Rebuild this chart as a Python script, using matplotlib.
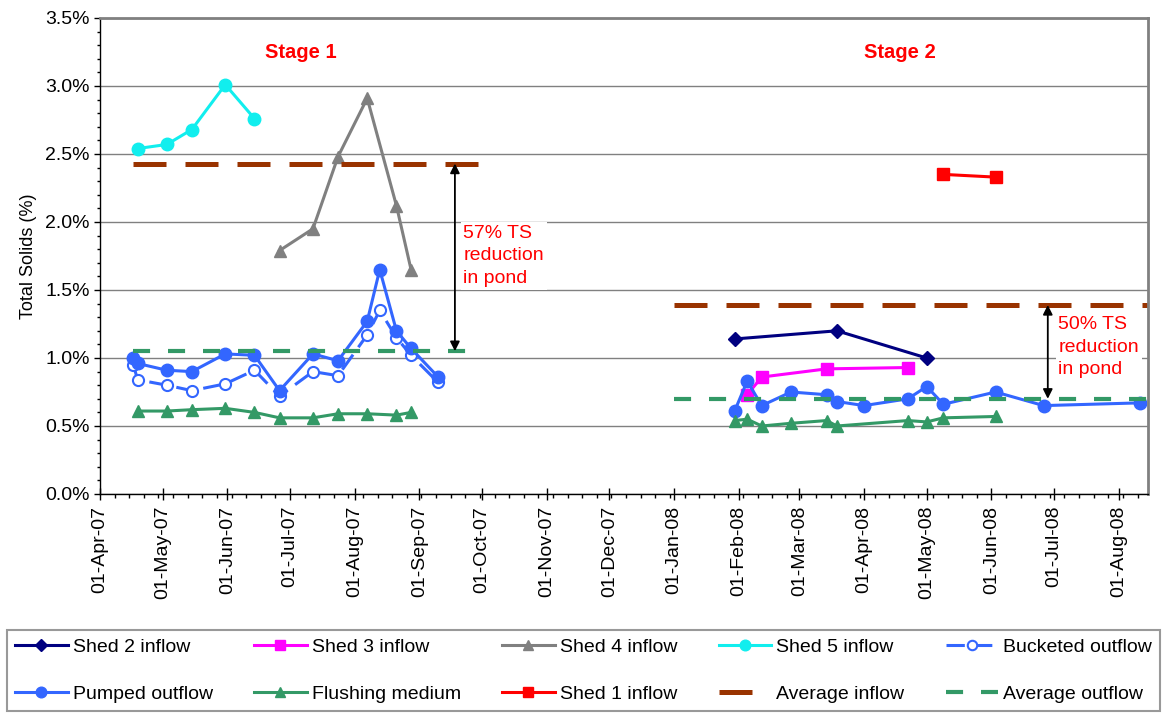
import numpy as np
import pandas as pd
import matplotlib
matplotlib.use('Agg')
import matplotlib.pyplot as plt
import matplotlib.dates as mdates
from matplotlib.ticker import MultipleLocator, FuncFormatter, FixedLocator

plt.rcParams['font.family'] = ['Liberation Sans', 'DejaVu Sans']

# %% data (Total Solids, %)
shed2_dates = ['2008-01-30', '2008-03-19', '2008-05-01']
shed2_ts = [1.14, 1.20, 1.00]

shed3_dates = ['2008-02-05', '2008-02-12', '2008-03-14', '2008-04-22']
shed3_ts = [0.73, 0.86, 0.92, 0.93]

shed4_dates = ['2007-06-26', '2007-07-12', '2007-07-24', '2007-08-07', '2007-08-21', '2007-08-28']
shed4_ts = [1.79, 1.95, 2.48, 2.91, 2.12, 1.65]

shed5_dates = ['2007-04-19', '2007-05-03', '2007-05-15', '2007-05-31', '2007-06-14']
shed5_ts = [2.54, 2.57, 2.68, 3.01, 2.76]

shed1_dates = ['2008-05-09', '2008-06-03']
shed1_ts = [2.35, 2.33]

bucket_dates = ['2007-04-17', '2007-04-19', '2007-05-03', '2007-05-15', '2007-05-31', '2007-06-14',
                '2007-06-26', '2007-07-12', '2007-07-24', '2007-08-07', '2007-08-13', '2007-08-21',
                '2007-08-28', '2007-09-10']
bucket_ts = [0.95, 0.84, 0.80, 0.76, 0.81, 0.91, 0.72, 0.90, 0.87, 1.17, 1.35, 1.15, 1.02, 0.82]

pumped_s1_dates = bucket_dates
pumped_s1_ts = [1.00, 0.96, 0.91, 0.90, 1.03, 1.02, 0.76, 1.03, 0.98, 1.27, 1.65, 1.20, 1.07, 0.86]
pumped_s2_dates = ['2008-01-30', '2008-02-05', '2008-02-12', '2008-02-26', '2008-03-14', '2008-03-19',
                   '2008-04-01', '2008-04-22', '2008-05-01', '2008-05-09', '2008-06-03', '2008-06-26',
                   '2008-08-11']
pumped_s2_ts = [0.61, 0.83, 0.65, 0.75, 0.73, 0.68, 0.65, 0.70, 0.79, 0.66, 0.75, 0.65, 0.67]

flush_s1_dates = ['2007-04-19', '2007-05-03', '2007-05-15', '2007-05-31', '2007-06-14', '2007-06-26',
                  '2007-07-12', '2007-07-24', '2007-08-07', '2007-08-21', '2007-08-28']
flush_s1_ts = [0.61, 0.61, 0.62, 0.63, 0.60, 0.56, 0.56, 0.59, 0.59, 0.58, 0.60]
flush_s2_dates = ['2008-01-30', '2008-02-05', '2008-02-12', '2008-02-26', '2008-03-14', '2008-03-19',
                  '2008-04-22', '2008-05-01', '2008-05-09', '2008-06-03']
flush_s2_ts = [0.54, 0.55, 0.50, 0.52, 0.54, 0.50, 0.54, 0.53, 0.56, 0.57]

# averages per stage
stage1_span = ['2007-04-17', '2007-09-30']
stage2_span = ['2008-01-01', '2008-08-15']
avg_in = [2.43, 1.39]
avg_out = [1.05, 0.70]

d = lambda lst: pd.to_datetime(lst)

# %%
fig = plt.figure(figsize=(11.62, 7.13), dpi=100)
ax = fig.add_axes([100/1162, 1-494/713, 1048/1162, 476/713])

h_shed2, = ax.plot(d(shed2_dates), shed2_ts, '-D', color='#000080', lw=2.2, ms=7, label='Shed 2 inflow')
h_shed3, = ax.plot(d(shed3_dates), shed3_ts, '-s', color='#FF00FF', lw=2.2, ms=8, label='Shed 3 inflow')
h_shed4, = ax.plot(d(shed4_dates), shed4_ts, '-^', color='#808080', lw=2.2, ms=9, label='Shed 4 inflow')
h_shed5, = ax.plot(d(shed5_dates), shed5_ts, '-o', color='#11EEEE', lw=2.2, ms=9, label='Shed 5 inflow')
h_buck, = ax.plot(d(bucket_dates), bucket_ts, '-o', color='#3366FF', mfc='white', mew=1.5,
                  lw=2.2, ms=8, dashes=(6, 3), label='Bucketed outflow')
h_pump, = ax.plot(d(pumped_s1_dates), pumped_s1_ts, '-o', color='#3366FF', lw=2.2, ms=9,
                  label='Pumped outflow')
ax.plot(d(pumped_s2_dates), pumped_s2_ts, '-o', color='#3366FF', lw=2.2, ms=9)
h_flush, = ax.plot(d(flush_s1_dates), flush_s1_ts, '-^', color='#339966', lw=2.2, ms=9,
                   label='Flushing medium')
ax.plot(d(flush_s2_dates), flush_s2_ts, '-^', color='#339966', lw=2.2, ms=9)
h_shed1, = ax.plot(d(shed1_dates), shed1_ts, '-s', color='#FF0000', lw=2.2, ms=8, label='Shed 1 inflow')

for i, span in enumerate([stage1_span, stage2_span]):
    h_ain, = ax.plot(d(span), [avg_in[i]]*2, color='#993300', lw=3.6, dashes=(6.6, 3.8),
                     label='Average inflow')
    h_aout, = ax.plot(d(span), [avg_out[i]]*2, color='#339966', lw=3.0, dashes=(4.1, 4.3),
                      label='Average outflow')

# reduction arrows + notes
arrow_x = d(['2007-09-18', '2008-06-28'])
for i in range(2):
    ax.annotate('', xy=(arrow_x[i], avg_out[i]), xytext=(arrow_x[i], avg_in[i]),
                arrowprops=dict(arrowstyle='<|-|>', color='black', lw=1.3,
                                mutation_scale=14, shrinkA=0, shrinkB=0))
ax.text(d(['2007-09-22'])[0], 1.75, '57% TS\nreduction\nin pond', color='red', fontsize=14,
        ha='left', va='center', linespacing=1.45,
        bbox=dict(facecolor='white', edgecolor='none', pad=2))
ax.text(d(['2008-07-03'])[0], 1.08, '50% TS\nreduction\nin pond', color='red', fontsize=14,
        ha='left', va='center', linespacing=1.45,
        bbox=dict(facecolor='white', edgecolor='none', pad=2))

ax.text(d(['2007-07-06'])[0], 3.25, 'Stage 1', color='red', fontsize=14.5, fontweight='bold',
        ha='center', va='center')
ax.text(d(['2008-04-18'])[0], 3.25, 'Stage 2', color='red', fontsize=14.5, fontweight='bold',
        ha='center', va='center')

# axes
ax.set_xlim(pd.Timestamp('2007-04-01'), pd.Timestamp('2008-08-15'))
ax.set_ylim(0, 3.5)
ax.yaxis.set_major_locator(MultipleLocator(0.5))
ax.yaxis.set_minor_locator(MultipleLocator(0.1))
ax.yaxis.set_major_formatter(FuncFormatter(lambda v, p: f'{v:.1f}%'))
ax.xaxis.set_major_locator(mdates.MonthLocator())
ax.xaxis.set_major_formatter(mdates.DateFormatter('%d-%b-%y'))
weeks = pd.date_range('2007-04-01', '2008-08-15', freq='7D')
ax.xaxis.set_minor_locator(FixedLocator(mdates.date2num(weeks)))
ax.tick_params(axis='x', which='major', direction='inout', length=9, width=1, labelsize=14,
               labelrotation=90, pad=4)
ax.tick_params(axis='x', which='minor', direction='out', length=3, width=1)
ax.tick_params(axis='y', which='major', direction='out', length=4, width=1, labelsize=14)
ax.tick_params(axis='y', which='minor', direction='out', length=2.5, width=1)
ax.grid(axis='y', which='major', color='#808080', lw=1)
ax.set_axisbelow(True)
ax.set_ylabel('Total Solids (%)', fontsize=13, labelpad=6)

for s in ['top', 'right']:
    ax.spines[s].set_color('#808080')
    ax.spines[s].set_linewidth(2)
for s in ['left', 'bottom']:
    ax.spines[s].set_color('black')
    ax.spines[s].set_linewidth(1)

handles = [h_shed2, h_pump, h_shed3, h_flush, h_shed4, h_shed1, h_shed5, h_ain, h_buck, h_aout]
leg = fig.legend(handles=handles, labels=[h.get_label() for h in handles], ncol=5,
                 loc='center', mode='expand', bbox_to_anchor=(7/1162, 0/713, 1153/1162, 85/713),
                 fontsize=14, frameon=True, fancybox=False, edgecolor='#808080',
                 handlelength=2.7, handletextpad=0.25, labelspacing=1.5, borderaxespad=0,
                 borderpad=0.42, columnspacing=0.8, markerscale=0.85)
leg.get_frame().set_linewidth(1.5)

plt.savefig('out.png', dpi=100)
